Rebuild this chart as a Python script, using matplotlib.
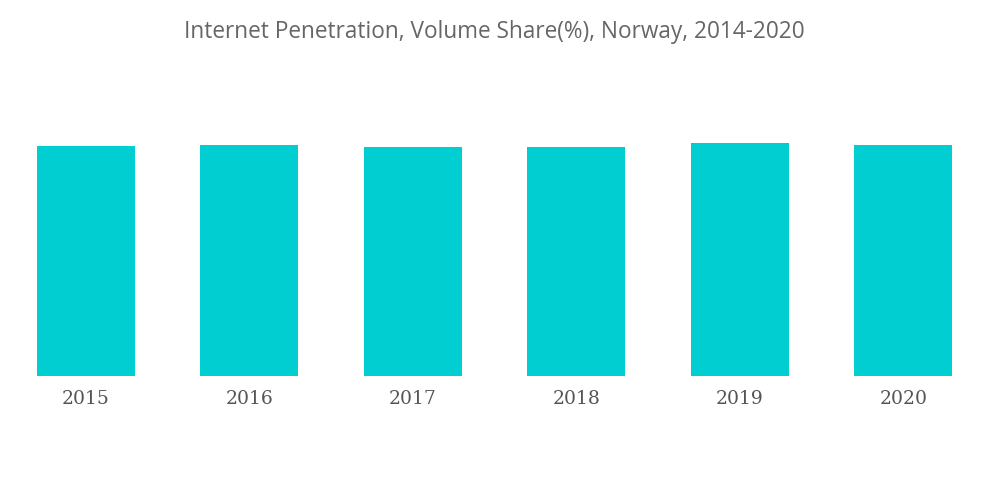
"""Internet penetration bar chart, Norway."""

import matplotlib
matplotlib.use('Agg')
import matplotlib.pyplot as plt

years = ['2015', '2016', '2017', '2018', '2019', '2020']
share = [96.3, 96.7, 95.9, 95.9, 97.6, 96.5]

BAR_COLOR = '#00CED1'

fig = plt.figure(figsize=(10, 5.04), dpi=100)
ax = fig.add_axes([0.004, 0.254, 0.981, 0.474])

ax.bar(range(len(years)), share, width=0.6, color=BAR_COLOR)
ax.set_xlim(-0.5, len(years) - 0.5)
ax.set_ylim(0, 100)

ax.set_xticks(range(len(years)))
ax.set_xticklabels(years, fontsize=13.5, color='#555555', family='DejaVu Serif')
ax.tick_params(axis='x', length=0, pad=10)
ax.set_yticks([])
for side in ax.spines.values():
    side.set_visible(False)

fig.text(0.494, 0.936, 'Internet Penetration, Volume Share(%), Norway, 2014-2020',
         ha='center', va='center', fontsize=16.3, color='#666666',
         family='Open Sans')

fig.savefig('out.png', dpi=100, facecolor='white')
plt.close(fig)
